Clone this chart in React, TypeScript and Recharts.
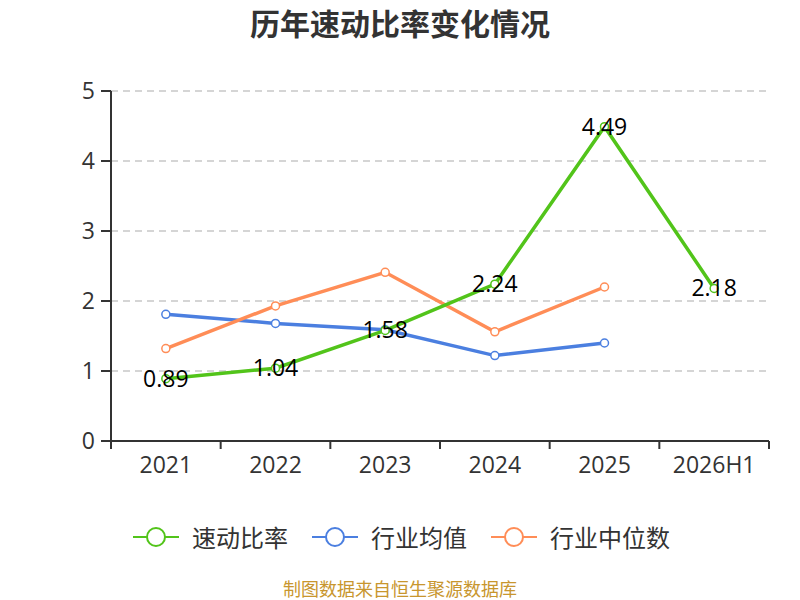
import { LineChart, Line, XAxis, YAxis, CartesianGrid, LabelList } from "recharts";

const years = ["2021", "2022", "2023", "2024", "2025", "2026H1"];
const quickRatio = [0.89, 1.04, 1.58, 2.24, 4.49, 2.18];
const industryMean = [1.81, 1.68, 1.59, 1.22, 1.4, null];
const industryMedian = [1.32, 1.93, 2.41, 1.56, 2.2, null];
const yTicks = [0, 1, 2, 3, 4, 5];

const GREEN = "#52c41a";
const BLUE = "#4b7fe0";
const ORANGE = "#ff8d57";
const NUM_FONT = "'Open Sans', 'Noto Sans CJK SC', sans-serif";
const CJK_FONT = "'Noto Sans CJK SC', sans-serif";

const data = years.map((year, i) => ({
  year,
  quick: quickRatio[i],
  mean: industryMean[i],
  median: industryMedian[i],
}));

const legendItems = [
  { name: "速动比率", color: GREEN },
  { name: "行业均值", color: BLUE },
  { name: "行业中位数", color: ORANGE },
];

const BAND = 658 / years.length;

const XTick = (props: any) => {
  const { x, y, payload, index } = props;
  return (
    <g>
      <line x1={x - BAND / 2} y1={y - 8} x2={x - BAND / 2} y2={y} stroke="#333" strokeWidth={2} />
      {index === years.length - 1 && (
        <line x1={x + BAND / 2} y1={y - 8} x2={x + BAND / 2} y2={y} stroke="#333" strokeWidth={2} />
      )}
      <text x={x} y={y + 24} textAnchor="middle" fontSize={23} fill="#333" fontFamily={NUM_FONT}>
        {payload.value}
      </text>
    </g>
  );
};

const PointLabel = (props: any) => {
  const { x, y, value } = props;
  if (value == null) return null;
  return (
    <text x={x} y={y - 1} textAnchor="middle" dominantBaseline="central" fontSize={23} fill="#000" fontFamily={NUM_FONT}>
      {value}
    </text>
  );
};

const App = () => {
  return (
    <div style={{ position: "relative", width: 800, height: 600, background: "#fff" }}>
      <style>{"body{margin:0}"}</style>
      <div
        style={{
          position: "absolute", top: 0, left: 0, width: 800, textAlign: "center", lineHeight: "44px",
          fontSize: 30, fontWeight: "bold", color: "#333", fontFamily: CJK_FONT,
        }}
      >
        历年速动比率变化情况
      </div>
      <LineChart width={800} height={600} data={data} margin={{ top: 91, right: 31, bottom: 129, left: 61 }}>
        <CartesianGrid vertical={false} stroke="#c8c8c8" strokeDasharray="7 5" strokeWidth={1.5} />
        <XAxis
          dataKey="year"
          height={30}
          tickLine={false}
          tickSize={8}
          tickMargin={0}
          padding={{ left: BAND / 2, right: BAND / 2 }}
          axisLine={{ stroke: "#333", strokeWidth: 2 }}
          tick={<XTick />}
          interval={0}
        />
        <YAxis
          width={50}
          domain={[0, 5]}
          ticks={yTicks}
          tickSize={10}
          tickMargin={6}
          axisLine={{ stroke: "#333", strokeWidth: 2 }}
          tickLine={{ stroke: "#333", strokeWidth: 2 }}
          tick={{ fontSize: 23, fill: "#333", fontFamily: NUM_FONT }}
        />
        <Line
          dataKey="mean"
          stroke={BLUE}
          strokeWidth={3.5}
          dot={{ r: 4, fill: "#fff", stroke: BLUE, strokeWidth: 1.5 }}
          isAnimationActive={false}
        />
        <Line
          dataKey="median"
          stroke={ORANGE}
          strokeWidth={3.5}
          dot={{ r: 4, fill: "#fff", stroke: ORANGE, strokeWidth: 1.5 }}
          isAnimationActive={false}
        />
        <Line
          dataKey="quick"
          stroke={GREEN}
          strokeWidth={3.5}
          dot={{ r: 4, fill: "#fff", stroke: GREEN, strokeWidth: 1.5 }}
          isAnimationActive={false}
        >
          <LabelList dataKey="quick" content={<PointLabel />} />
        </Line>
      </LineChart>
      <div
        style={{
          position: "absolute", top: 522, left: 133, display: "flex", alignItems: "center",
          fontFamily: CJK_FONT, fontSize: 24, color: "#333",
        }}
      >
        {legendItems.map((item) => (
          <div key={item.name} style={{ display: "flex", alignItems: "center", marginRight: 24 }}>
            <svg width={46} height={30}>
              <line x1={0} y1={15} x2={46} y2={15} stroke={item.color} strokeWidth={2} />
              <circle cx={23} cy={15} r={9} fill="#fff" stroke={item.color} strokeWidth={2} />
            </svg>
            <span style={{ marginLeft: 13, lineHeight: "30px" }}>{item.name}</span>
          </div>
        ))}
      </div>
      <div
        style={{
          position: "absolute", top: 578, left: 0, width: 800, textAlign: "center", lineHeight: "20px",
          fontSize: 18, color: "#c8962e", fontFamily: CJK_FONT,
        }}
      >
        制图数据来自恒生聚源数据库
      </div>
    </div>
  );
};

export default App;
